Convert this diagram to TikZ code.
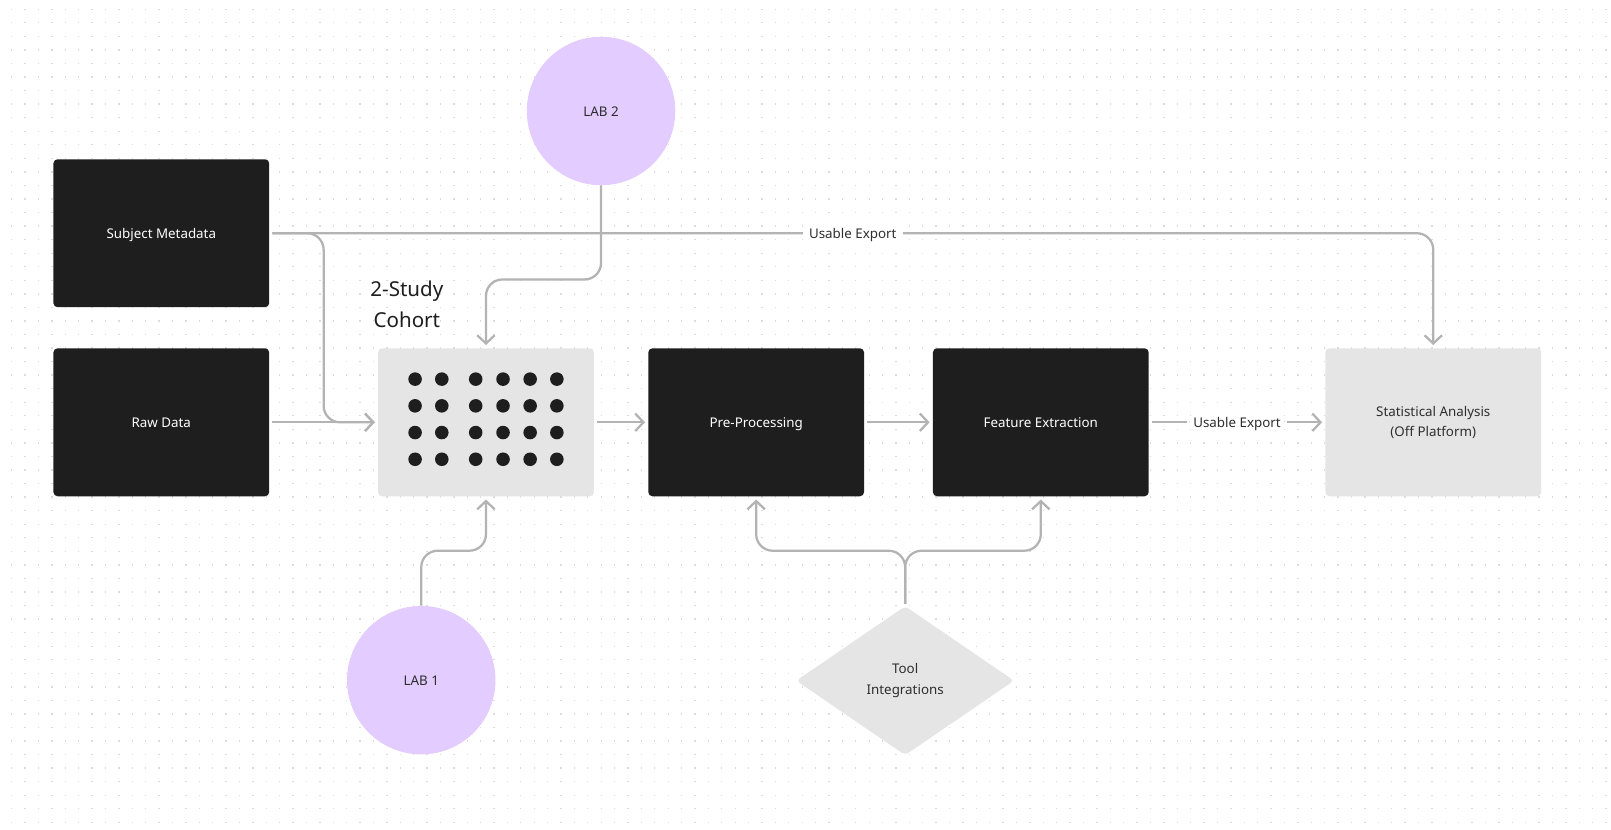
\documentclass[tikz,border=0pt]{standalone}
\usepackage{fontspec}
\setmainfont{Noto Sans}
\usetikzlibrary{arrows.meta,shapes.geometric}
\definecolor{boxdark}{HTML}{1E1E1E}
\definecolor{boxgrey}{HTML}{E5E5E5}
\definecolor{labpurple}{HTML}{E3CCFF}
\definecolor{wire}{HTML}{B3B3B3}
\definecolor{txt}{HTML}{2E2E2E}
\definecolor{griddot}{HTML}{DCDCDC}
\begin{document}
\begin{tikzpicture}[x=1pt,y=-1pt,
  darkbox/.style={rectangle, rounded corners=4pt, fill=boxdark, text=white,
    minimum width=210pt, minimum height=144pt, align=center,
    text height=11.5pt, text depth=0.5pt,
    font=\fontsize{13}{20}\selectfont},
  greybox/.style={rectangle, rounded corners=4pt, fill=boxgrey, text=txt,
    minimum width=210pt, minimum height=144pt, align=center,
    font=\fontsize{13}{20}\selectfont},
  labcircle/.style={circle, fill=labpurple, text=txt, minimum size=144.5pt,
    inner sep=0pt, text height=11.5pt, text depth=0.5pt,
    font=\fontsize{13}{20}\selectfont},
  tooldiamond/.style={diamond, fill=boxgrey, text=txt, minimum width=212pt,
    minimum height=145pt, inner sep=0pt, rounded corners=4pt, align=center,
    font=\fontsize{13}{20}\selectfont},
  wireline/.style={draw=wire, line width=2.2pt, rounded corners=16pt},
  tipped/.style={-{Straight Barb[length=8pt,width=17pt]}},
  lbl/.style={fill=white, text=txt, inner xsep=6pt, inner ysep=2pt,
    text height=11.5pt, text depth=0.5pt,
    font=\fontsize{13}{20}\selectfont}
]
% canvas
\fill[white] (0,0) rectangle (1568,807);
\path[use as bounding box] (0,0) rectangle (1568,807);
% dotted grid
\foreach \i in {0,...,119}{
  \foreach \j in {0,...,60}{
    \fill[griddot] ({11.4+\i*13.04-0.65},{9+\j*13.19-0.65}) rectangle ++(1.3,1.3);
  }
}

% nodes
\node[darkbox] (meta) at (157,227) {Subject Metadata};
\node[darkbox] (raw) at (157,411) {Raw Data};
\node[greybox] (cohort) at (473,411) {};
\node[darkbox] (pre) at (736,411) {Pre-Processing};
\node[darkbox] (feat) at (1013,411) {Feature Extraction};
\node[greybox] (stat) at (1395,411) {Statistical Analysis\\(Off Platform)};
\node[labcircle] (lab2) at (585,108) {LAB 2};
\node[labcircle] (lab1) at (410,662) {LAB 1};
\node[tooldiamond] (tool) at (881,662.5) {Tool\\Integrations};
\node[text=boxdark, align=center, font=\fontsize{20}{30}\selectfont] (title) at (396,296) {2-Study\\Cohort};

% cohort dots
\foreach \x in {404,430,463,489.6,516,542}{
  \foreach \y in {369,395,421,447}{
    \fill[boxdark] (\x,\y) circle (6.6pt);
  }
}

% connectors
\draw[wireline, tipped, shorten <=3pt, shorten >=3pt]
  (meta.east) -- (1395,227) -- (stat.north);
\node[lbl] (exportlbl) at (830,227) {Usable Export};
\draw[wireline, tipped, shorten <=3pt, shorten >=3pt]
  (meta.east) -- (315,227) -- (315,411) -- (cohort.west);
\draw[wireline, tipped, shorten <=3pt, shorten >=3pt]
  (raw.east) -- (cohort.west);
\draw[wireline, tipped, shorten >=3pt]
  (lab2.south) -- (585,272) -- (473,272) -- (cohort.north);
\draw[wireline, tipped, shorten >=3pt]
  (lab1.north) -- (410,536) -- (473,536) -- (cohort.south);
\draw[wireline, tipped, shorten <=3pt, shorten >=3pt]
  (cohort.east) -- (pre.west);
\draw[wireline, tipped, shorten <=3pt, shorten >=3pt]
  (pre.east) -- (feat.west);
\draw[wireline, tipped, shorten <=3pt, shorten >=3pt]
  (feat.east) -- node[lbl] (export2) {Usable Export} (stat.west);
\draw[wireline, tipped, shorten <=2pt, shorten >=3pt]
  (tool.north) -- (881,536) -- (736,536) -- (pre.south);
\draw[wireline, tipped, shorten <=2pt, shorten >=3pt]
  (tool.north) -- (881,536) -- (1013,536) -- (feat.south);
\end{tikzpicture}
\end{document}
